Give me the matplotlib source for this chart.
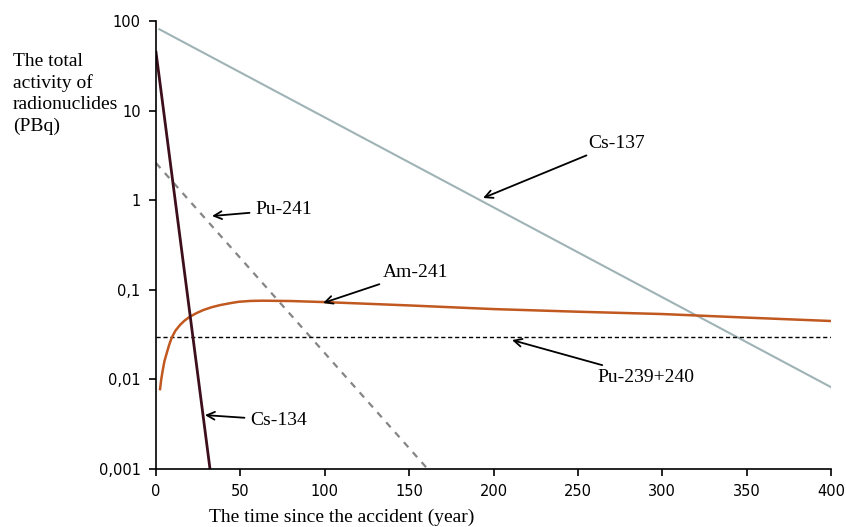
import matplotlib.pyplot as plt
from matplotlib.ticker import FixedLocator, NullLocator

# values (time in years, activity in PBq)
cs137_t = [2, 400]
cs137_v = [81, 0.0082]
cs134_t = [0, 32]
cs134_v = [45, 0.001]
pu241_t = [0, 161]
pu241_v = [2.6, 0.001]
am241_t = [2.4, 3.1, 4.0, 5.0, 6.3, 7.7, 9.3, 11.5, 14.2, 17, 20, 24, 28, 33, 38, 44, 49, 56, 63, 80,
           100, 150, 200, 250, 300, 350, 400]
am241_v = [0.0078, 0.0100, 0.0127, 0.0160, 0.0195, 0.0240, 0.0292, 0.0350, 0.0405, 0.0455, 0.0500,
           0.0550, 0.0595, 0.0640, 0.0676, 0.0710, 0.0736, 0.0752, 0.0757, 0.0750,
           0.073, 0.067, 0.061, 0.057, 0.0537, 0.049, 0.0449]
pu239_t = [0, 400]
pu239_v = [0.03, 0.03]

yticks = [0.001, 0.01, 0.1, 1, 10, 100]
ytick_labels = ['0,001', '0,01', '0,1', '1', '10', '100']
xticks = [0, 50, 100, 150, 200, 250, 300, 350, 400]

serif = 'Liberation Serif'

fig = plt.figure(figsize=(8.46, 5.27), dpi=100)
ax = fig.add_axes([0.1844, 0.110, 0.7979, 0.850])

ax.plot(cs137_t, cs137_v, color='#9fb3b6', lw=1.5)
ax.plot(pu241_t, pu241_v, color='#858585', lw=1.6, ls=(0, (3, 3)))
ax.plot(pu239_t, pu239_v, color='black', lw=1.0, ls=(0, (3, 2)))
ax.plot(am241_t, am241_v, color='#c0581f', lw=1.8)
ax.plot(cs134_t, cs134_v, color='#3d0f1c', lw=2.0)

ax.set_yscale('log')
ax.set_xlim(0, 400)
ax.set_ylim(0.001, 100)
ax.yaxis.set_major_locator(FixedLocator(yticks))
ax.yaxis.set_minor_locator(NullLocator())
ax.set_yticklabels(ytick_labels)
ax.set_xticks(xticks)
ax.tick_params(direction='out', length=5, width=1.2, labelsize=10.5, pad=6)

for s in ['top', 'right']:
    ax.spines[s].set_visible(False)
for s in ['left', 'bottom']:
    ax.spines[s].set_linewidth(1.2)

# labelled arrows
notes = [
    ('Cs-137', (193.8, 1.06), (256, 4.35)),
    ('Pu-241', (33.2, 0.667), (58.7, 0.78)),
    ('Am-241', (99, 0.0713), (134.5, 0.158)),
    ('Pu-239+240', (211, 0.0275), (261.3, 0.0106)),
    ('Cs-134', (29, 0.0040), (55.7, 0.00352)),
]
for txt, tip, pos in notes:
    ax.annotate(txt, xy=tip, xytext=pos, ha='left', va='center',
                fontsize=14, family=serif,
                arrowprops=dict(arrowstyle='->', color='black', lw=1.3,
                                shrinkA=2, shrinkB=0, mutation_scale=14))

fig.text(0.015, 1 - 53 / 527, 'The total\nactivity of\nradionuclides\n(PBq)',
         ha='left', va='top', fontsize=14, family=serif, linespacing=1.32)
fig.text(342 / 846, 1 - 517 / 527, 'The time since the accident (year)',
         ha='center', va='center', fontsize=14, family=serif)

fig.savefig('out.png', dpi=100)
